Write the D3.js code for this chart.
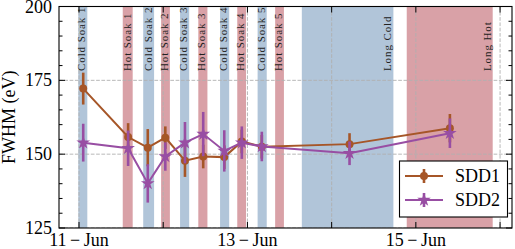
<!DOCTYPE html>
<html>
<head>
<meta charset="utf-8">
<script src="https://cdn.jsdelivr.net/npm/d3@7"></script>
<style>
  body { margin: 0; background: #fff; }
  svg text { font-family: "Liberation Serif", "Times New Roman", "DejaVu Serif", serif; }
</style>
</head>
<body>
<div id="chart"></div>
<script>
// measurement times (UTC)
var times = ["2021-06-11T01:12", "2021-06-11T14:00", "2021-06-11T19:36", "2021-06-12T00:36",
  "2021-06-12T06:12", "2021-06-12T11:24", "2021-06-12T17:24", "2021-06-12T22:24",
  "2021-06-13T04:06", "2021-06-14T05:06", "2021-06-15T09:42"];
var sdd1 = [172.2, 155.8, 152.2, 155.6, 147.8, 149.2, 149.0, 154.3, 152.5, 153.4, 158.8];
var sdd1Err = [5.4, 4.7, 6.3, 3.8, 5.5, 4.0, 4.0, 4.0, 4.0, 3.7, 4.8];
var sdd2 = [153.9, 152.0, 140.1, 149.2, 153.9, 156.8, 151.1, 153.9, 152.6, 150.3, 157.1];
var sdd2Err = [6.4, 6.0, 6.5, 4.8, 7.0, 7.5, 7.0, 5.5, 5.0, 4.0, 5.0];

// thermal test windows
var phaseNames = ["Cold Soak 1", "Hot Soak 1", "Cold Soak 2", "Hot Soak 2", "Cold Soak 3", "Hot Soak 3",
  "Cold Soak 4", "Hot Soak 4", "Cold Soak 5", "Hot Soak 5", "Long Cold", "Long Hot"];
var phaseStart = ["2021-06-10T23:48", "2021-06-11T12:28", "2021-06-11T18:18", "2021-06-11T23:24",
  "2021-06-12T04:48", "2021-06-12T10:00", "2021-06-12T16:12", "2021-06-12T21:06",
  "2021-06-13T02:54", "2021-06-13T07:54", "2021-06-13T15:30", "2021-06-14T21:24"];
var phaseEnd = ["2021-06-11T02:22", "2021-06-11T15:18", "2021-06-11T21:24", "2021-06-12T01:54",
  "2021-06-12T07:24", "2021-06-12T12:36", "2021-06-12T18:48", "2021-06-12T23:36",
  "2021-06-13T05:30", "2021-06-13T10:24", "2021-06-14T17:36", "2021-06-15T21:54"];
var phaseType = ["cold", "hot", "cold", "hot", "cold", "hot", "cold", "hot", "cold", "hot", "cold", "hot"];

var yTicks = [125, 150, 175, 200];
var xLabelDays = ["2021-06-11", "2021-06-13", "2021-06-15"];
var xLabels = ["11\u2009\u2212\u2009Jun", "13\u2009\u2212\u2009Jun", "15\u2009\u2212\u2009Jun"];

var parse = d3.utcParse("%Y-%m-%dT%H:%M");
var parseDay = d3.utcParse("%Y-%m-%d");

var width = 515, height = 249;
var margin = {top: 6.5, right: 3, bottom: 21, left: 59};
var serif = "'Liberation Serif', 'DejaVu Serif', serif";

var svg = d3.select("#chart")
.append("svg")
  .attr("width", width)
  .attr("height", height);

var x = d3.scaleUtc()
  .domain([parse("2021-06-10T18:18"), parse("2021-06-16T03:24")])
  .range([margin.left, width - margin.right]);
var y = d3.scaleLinear()
  .domain([125, 200])
  .range([height - margin.bottom, margin.top]);

var x0 = margin.left, x1 = width - margin.right;
var y0 = height - margin.bottom, y1 = margin.top;

svg.append("clipPath").attr("id", "plot")
  .append("rect")
    .attr("x", x0).attr("y", y1)
    .attr("width", x1 - x0).attr("height", y0 - y1);

var plot = svg.append("g").attr("clip-path", "url(#plot)");

// shaded phases
var phases = phaseNames.map(function(n, i) {
  return {name: n, s: parse(phaseStart[i]), e: parse(phaseEnd[i]), type: phaseType[i]};
});
plot.selectAll("rect.phase")
  .data(phases)
  .enter()
  .append("rect")
    .attr("class", "phase")
    .attr("x", function(d) { return x(d.s); })
    .attr("y", y1)
    .attr("width", function(d) { return x(d.e) - x(d.s); })
    .attr("height", y0 - y1)
    .style("fill", function(d) { return d.type == "cold" ? "#b1c5d9" : "#d9a1a7"; });

// grid
var days = d3.utcDay.range(parseDay("2021-06-11"), parseDay("2021-06-17"));
plot.selectAll("line.vgrid")
  .data(days)
  .enter()
  .append("line")
    .attr("x1", function(d) { return x(d); })
    .attr("x2", function(d) { return x(d); })
    .attr("y1", y1).attr("y2", y0)
    .style("stroke", "#b0b0b0")
    .style("stroke-width", 0.9)
    .style("stroke-dasharray", "3.7,1.6");
plot.selectAll("line.hgrid")
  .data(yTicks)
  .enter()
  .append("line")
    .attr("x1", x0).attr("x2", x1)
    .attr("y1", function(d) { return y(d); })
    .attr("y2", function(d) { return y(d); })
    .style("stroke", "#b0b0b0")
    .style("stroke-width", 0.9)
    .style("stroke-dasharray", "3.7,1.6");

// phase labels
plot.selectAll("text.phase")
  .data(phases)
  .enter()
  .append("text")
    .attr("transform", function(d) { return "translate(" + (x(d.e) - 2) + ",71) rotate(-90)"; })
    .attr("font-family", serif)
    .attr("font-size", "11px")
    .attr("letter-spacing", "0.9px")
    .attr("fill", "#222")
    .text(function(d) { return d.name; });

// series
var series = [
  {name: "SDD1", vals: sdd1, err: sdd1Err, color: "#a65628", marker: d3.symbolCircle, size: 50},
  {name: "SDD2", vals: sdd2, err: sdd2Err, color: "#984ea3", marker: d3.symbolStar, size: 58}
];
var line = d3.line()
  .x(function(d) { return x(d.t); })
  .y(function(d) { return y(d.v); });

series.forEach(function(s) {
  var pts = times.map(function(t, i) { return {t: parse(t), v: s.vals[i], e: s.err[i]}; });
  var g = svg.append("g");
  g.append("path")
    .datum(pts)
    .attr("d", line)
    .style("fill", "none")
    .style("stroke", s.color)
    .style("stroke-width", 2);
  g.selectAll("line")
    .data(pts)
    .enter()
    .append("line")
      .attr("x1", function(d) { return x(d.t); })
      .attr("x2", function(d) { return x(d.t); })
      .attr("y1", function(d) { return y(d.v - d.e); })
      .attr("y2", function(d) { return y(d.v + d.e); })
      .style("stroke", s.color)
      .style("stroke-width", 2.6);
  g.selectAll("path.mk")
    .data(pts)
    .enter()
    .append("path")
      .attr("class", "mk")
      .attr("transform", function(d) { return "translate(" + x(d.t) + "," + y(d.v) + ")"; })
      .attr("d", d3.symbol().type(s.marker).size(s.size))
      .style("fill", s.color);
});

// frame
svg.append("rect")
  .attr("x", x0).attr("y", y1)
  .attr("width", x1 - x0).attr("height", y0 - y1)
  .style("fill", "none")
  .style("stroke", "#000")
  .style("stroke-width", 1.1);

// y ticks, both sides, inward
var yMinor = d3.range(125, 201, 5);
svg.selectAll("line.ytick")
  .data(yMinor.concat(yMinor))
  .enter()
  .append("line")
    .attr("x1", function(d, i) { return i < yMinor.length ? x0 : x1; })
    .attr("x2", function(d, i) {
      var len = yTicks.indexOf(d) >= 0 ? 6 : 3.5;
      return i < yMinor.length ? x0 + len : x1 - len;
    })
    .attr("y1", function(d) { return y(d); })
    .attr("y2", function(d) { return y(d); })
    .style("stroke", "#000")
    .style("stroke-width", 1);
svg.selectAll("text.ylab")
  .data(yTicks)
  .enter()
  .append("text")
    .attr("x", x0 - 7)
    .attr("y", function(d) { return Math.max(y(d) + 6, 12.5); })
    .attr("text-anchor", "end")
    .attr("font-family", serif)
    .attr("font-size", "18px")
    .text(function(d) { return d; });

// x ticks every day, top and bottom
svg.selectAll("line.xtick")
  .data(days.concat(days))
  .enter()
  .append("line")
    .attr("x1", function(d) { return x(d); })
    .attr("x2", function(d) { return x(d); })
    .attr("y1", function(d, i) { return i < days.length ? y0 : y1; })
    .attr("y2", function(d, i) { return i < days.length ? y0 - 6 : y1 + 6; })
    .style("stroke", "#000")
    .style("stroke-width", 1);
svg.selectAll("text.xlab")
  .data(xLabelDays)
  .enter()
  .append("text")
    .attr("x", function(d) { return x(parseDay(d)); })
    .attr("y", 245.5)
    .attr("text-anchor", "middle")
    .attr("font-family", serif)
    .attr("font-size", "18px")
    .text(function(d, i) { return xLabels[i]; });

svg.append("text")
  .attr("transform", "translate(14.5," + ((y0 + y1) / 2) + ") rotate(-90)")
  .attr("text-anchor", "middle")
  .attr("font-family", serif)
  .attr("font-size", "18px")
  .text("FWHM (eV)");

// legend
var leg = svg.append("g");
leg.append("rect")
  .attr("x", 399.5).attr("y", 161)
  .attr("width", 108).attr("height", 56)
  .style("fill", "#fff")
  .style("stroke", "#000")
  .style("stroke-width", 1.1);
series.forEach(function(s, i) {
  var ly = 176 + i * 24;
  leg.append("line")
    .attr("x1", 405).attr("x2", 443).attr("y1", ly).attr("y2", ly)
    .style("stroke", s.color).style("stroke-width", 2);
  leg.append("line")
    .attr("x1", 424).attr("x2", 424).attr("y1", ly - 7).attr("y2", ly + 7)
    .style("stroke", s.color).style("stroke-width", 2.6);
  leg.append("path")
    .attr("transform", "translate(424," + ly + ")")
    .attr("d", d3.symbol().type(s.marker).size(s.size))
    .style("fill", s.color);
  leg.append("text")
    .attr("x", 455).attr("y", ly + 6)
    .attr("font-family", serif)
    .attr("font-size", "18px")
    .text(s.name);
});
</script>
</body>
</html>
